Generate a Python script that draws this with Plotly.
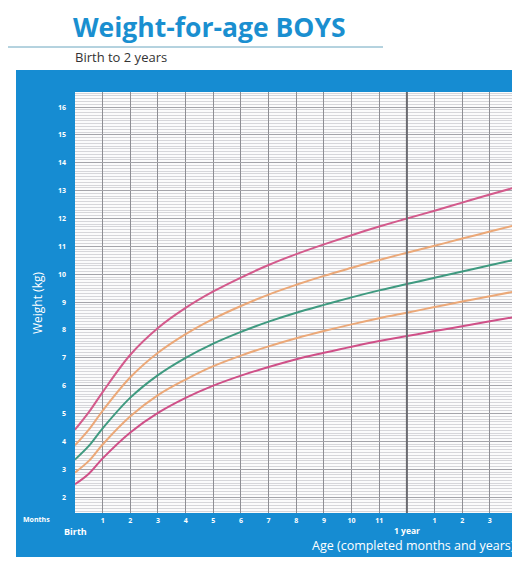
import plotly.graph_objects as go

# edad en meses y peso (kg) de cada curva
meses = [0, 0.5, 1, 2, 3, 4, 5, 6, 7, 8, 9, 10, 11, 12, 13, 14, 15, 16]
menos2 = [2.46, 2.84, 3.39, 4.32, 5.02, 5.56, 6.00, 6.36, 6.67, 6.95, 7.18, 7.40, 7.60, 7.78, 7.96, 8.13, 8.31, 8.48]
menos1 = [2.88, 3.30, 3.89, 4.90, 5.66, 6.22, 6.70, 7.08, 7.41, 7.70, 7.96, 8.20, 8.42, 8.62, 8.82, 9.02, 9.21, 9.40]
mediana = [3.35, 3.84, 4.47, 5.57, 6.38, 7.00, 7.51, 7.93, 8.30, 8.62, 8.90, 9.17, 9.42, 9.65, 9.87, 10.10, 10.32, 10.54]
mas1 = [3.86, 4.42, 5.10, 6.30, 7.18, 7.85, 8.40, 8.86, 9.27, 9.62, 9.94, 10.23, 10.51, 10.77, 11.02, 11.28, 11.53, 11.78]
mas2 = [4.42, 5.05, 5.77, 7.11, 8.07, 8.79, 9.38, 9.88, 10.33, 10.72, 11.07, 11.40, 11.71, 12.00, 12.28, 12.57, 12.86, 13.14]

ticks_x = list(range(1, 16))
etiquetas_x = ["1", "2", "3", "4", "5", "6", "7", "8", "9", "10", "11", "", "1", "2", "3"]
ticks_y = list(range(2, 17))

azul = "#168cd2"
fuente = "Open Sans"

# la pagina deja 8px de margen, asi que todo se mide restando ese desplazamiento
OFF = 8
W, H = 528 - OFF, 573 - OFF
L, R, T, B = 75 - OFF, 512 - OFF, 92 - OFF, 513 - OFF


def px(x):
    return (x - OFF - L) / (R - L)


def py(y):
    return (B - (y - OFF)) / (B - T)


fig = go.Figure()

curvas = [
    (mas2, "#d35a8c"),
    (mas1, "#eba878"),
    (mediana, "#3f9a80"),
    (menos1, "#eba878"),
    (menos2, "#cf5088"),
]
for serie, color in curvas:
    fig.add_trace(go.Scatter(x=meses, y=serie, mode="lines",
                             line=dict(color=color, width=2, shape="spline", smoothing=1),
                             showlegend=False, hoverinfo="skip"))

shapes = [
    # panel azul y fondo de la cuadricula
    dict(type="rect", xref="paper", yref="paper", x0=px(16), x1=px(512), y0=py(557), y1=py(70),
         fillcolor=azul, line=dict(width=0), layer="below"),
    dict(type="rect", xref="paper", yref="paper", x0=0, x1=1, y0=0, y1=1,
         fillcolor="#fbfbfc", line=dict(width=0), layer="below"),
    # linea bajo el titulo
    dict(type="line", xref="paper", yref="paper", x0=px(5), x1=px(383), y0=py(47), y1=py(47),
         line=dict(color="#6aa6bf", width=1)),
    # linea del año
    dict(type="line", xref="x", yref="paper", x0=12, x1=12, y0=0, y1=1,
         line=dict(color="#6a6a70", width=2)),
]

annotations = [
    dict(text="<b>Weight-for-age BOYS</b>", x=px(71), y=py(27), xanchor="left", yanchor="middle",
         font=dict(family=fuente, size=26.5, color="#1a8fd0")),
    dict(text="Birth to 2 years", x=px(73), y=py(57), xanchor="left", yanchor="middle",
         font=dict(family=fuente, size=13, color="#333333")),
    dict(text="Weight (kg)", x=px(37), y=py(303), textangle=-90, xanchor="center", yanchor="middle",
         font=dict(family=fuente, size=12, color="white")),
    dict(text="<b>Months</b>", x=px(36), y=py(519), xanchor="center", yanchor="middle",
         font=dict(family=fuente, size=7, color="white")),
    dict(text="<b>Birth</b>", x=px(75), y=py(531), xanchor="center", yanchor="middle",
         font=dict(family=fuente, size=9, color="white")),
    dict(text="<b>1 year</b>", x=px(407), y=py(530), xanchor="center", yanchor="middle",
         font=dict(family=fuente, size=8.5, color="white")),
    dict(text="Age (completed months and years)", x=px(310), y=py(545), xanchor="left", yanchor="middle",
         font=dict(family=fuente, size=12.5, color="white")),
]
for a in annotations:
    a.update(xref="paper", yref="paper", showarrow=False)

fig.update_layout(
    width=W, height=H,
    margin=dict(l=L, r=W - R, t=T, b=H - B),
    paper_bgcolor="white",
    plot_bgcolor="rgba(0,0,0,0)",
    shapes=shapes,
    annotations=annotations,
    xaxis=dict(range=[0, 15.8], tickvals=ticks_x, ticktext=etiquetas_x,
               showgrid=True, gridcolor="#8e8e94", gridwidth=1.3, zeroline=False,
               showline=False, ticks="", ticklabelstandoff=2,
               tickfont=dict(family=fuente, size=7, color="white", weight="bold")),
    yaxis=dict(range=[1.43, 16.54], tickvals=ticks_y,
               showgrid=True, gridcolor="#a4a4aa", gridwidth=1, zeroline=False,
               showline=False, ticks="", ticklabelstandoff=8,
               minor=dict(dtick=0.1, showgrid=True, gridcolor="#d6d6da", gridwidth=1),
               tickfont=dict(family=fuente, size=7, color="white", weight="bold")),
)

fig.write_html("out.html")
